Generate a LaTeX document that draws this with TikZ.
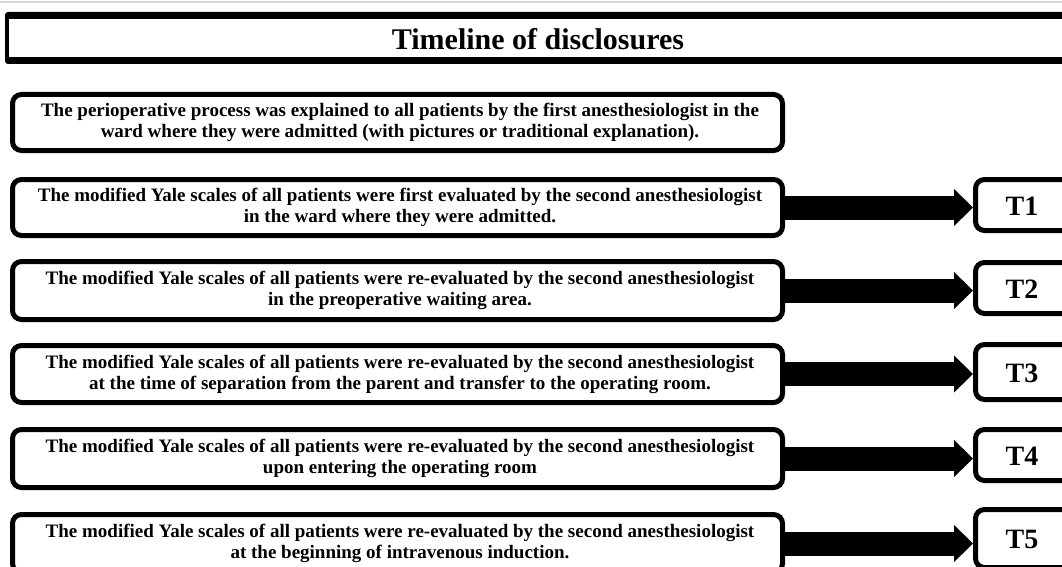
\documentclass[tikz,border=0pt]{standalone}
\usepackage{fontspec}
\setmainfont{Liberation Serif}
\usetikzlibrary{arrows.meta}
\begin{document}
\begin{tikzpicture}[x=1pt,y=-1pt,
  txtbox/.style={draw=black, line width=5pt, rounded corners=9pt, fill=white},
  tbox/.style={draw=black, line width=5pt, rounded corners=9pt, fill=white},
  boxtext/.style={font=\bfseries\fontsize{19}{21}\selectfont, align=center, inner sep=0pt},
  ttext/.style={font=\bfseries\fontsize{28}{30}\selectfont, inner sep=0pt},
  bigarrow/.style={line width=24pt, -{Triangle[length=19pt, width=36pt]}, shorten <=-2pt}]
\useasboundingbox (0,0) rectangle (1062,567);
\clip (0,0) rectangle (1062,567);
\fill[white] (0,0) rectangle (1062,567);
\draw[black!15, line width=1.5pt] (0,2) -- (1062,2);
% title
\fill[black, rounded corners=3pt] (5,12) rectangle (1080,64);
\fill[white] (9,19) rectangle (1075,57);
\node[font=\bfseries\fontsize{30}{34}\selectfont, inner sep=0pt] (title) at (538,39) {Timeline of disclosures};
% text boxes
\foreach \n/\t/\b in {b1/92/153, b2/177/238, b3/259/322, b4/343/405, b5/427/490, b6/512/575}{
  \draw[txtbox] (12.5,\t+2.5) rectangle (782.5,\b-2.5);
  \coordinate (\n-e) at (785,{(\t+\b)/2});
  \coordinate (\n-c) at (400,{(\t+\b)/2});
}
\node[boxtext] (t1) at (b1-c) {The perioperative process was explained to all patients by the first anesthesiologist in the\\ward where they were admitted (with pictures or traditional explanation).};
\node[boxtext] (t2) at (b2-c) {The modified Yale scales of all patients were first evaluated by the second anesthesiologist\\in the ward where they were admitted.};
\node[boxtext] (t3) at (b3-c) {The modified Yale scales of all patients were re-evaluated by the second anesthesiologist\\in the preoperative waiting area.};
\node[boxtext] (t4) at (b4-c) {The modified Yale scales of all patients were re-evaluated by the second anesthesiologist\\at the time of separation from the parent and transfer to the operating room.};
\node[boxtext] (t5) at (b5-c) {The modified Yale scales of all patients were re-evaluated by the second anesthesiologist\\upon entering the operating room};
\node[boxtext] (t6) at (b6-c) {The modified Yale scales of all patients were re-evaluated by the second anesthesiologist\\at the beginning of intravenous induction.};
% T boxes
\foreach \n/\t/\b/\l in {T1/177/233/T1, T2/260/316/T2, T3/342/402/T3, T4/427/483/T4, T5/507/570/T5}{
  \draw[tbox] (975.5,\t+2.5) rectangle (1080,\b-2.5);
  \coordinate (\n-w) at (973,{(\t+\b)/2});
  \node[ttext] (\n) at (1022,{(\t+\b)/2+1}) {\l};
}
% arrows
\draw[bigarrow] (b2-e) -- (T1-w |- b2-e);
\draw[bigarrow] (b3-e) -- (T2-w |- b3-e);
\draw[bigarrow] (b4-e) -- (T3-w |- b4-e);
\draw[bigarrow] (b5-e) -- (T4-w |- b5-e);
\draw[bigarrow] (b6-e) -- (T5-w |- b6-e);
\end{tikzpicture}
\end{document}
